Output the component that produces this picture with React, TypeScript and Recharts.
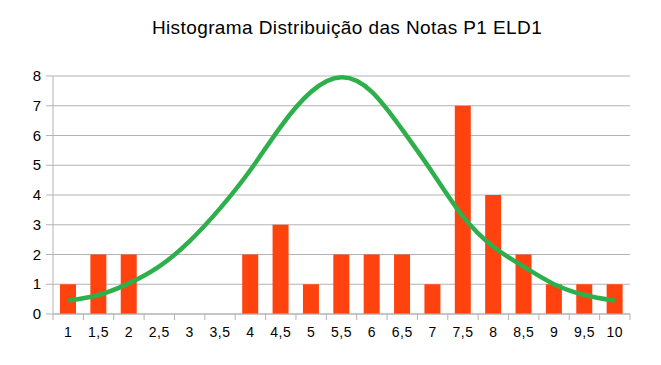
import { ComposedChart, Bar, Line, XAxis, YAxis, CartesianGrid } from 'recharts';

const notas = ['1', '1,5', '2', '2,5', '3', '3,5', '4', '4,5', '5', '5,5', '6', '6,5', '7', '7,5', '8', '8,5', '9', '9,5', '10'];
const frequencia = [1, 2, 2, 0, 0, 0, 2, 3, 1, 2, 2, 2, 1, 7, 4, 2, 1, 1, 1];
const curvaNormal = [0.45, 0.64, 1.03, 1.6, 2.45, 3.55, 4.84, 6.3, 7.47, 7.96, 7.47, 6.2, 4.75, 3.28, 2.26, 1.59, 1.0, 0.64, 0.45];
const yTicks = [0, 1, 2, 3, 4, 5, 6, 7, 8];

const data = notas.map((nota, i) => ({ nota, freq: frequencia[i], curva: curvaNormal[i] }));

const W = 661;
const H = 365;
const margin = { top: 76, right: 31, bottom: 21, left: 0 };
const yAxisWidth = 53;
const band = (W - margin.left - margin.right - yAxisWidth) / notas.length;

const font = '"Liberation Sans", Arial, sans-serif';

function XTick(props: any) {
  const { x, y, payload, index } = props;
  const half = band / 2;
  const top = y - 8;
  return (
    <g>
      <line x1={x - half} x2={x - half} y1={top} y2={top + 6} stroke="#b3b3b3" />
      {index === notas.length - 1 && (
        <line x1={x + half} x2={x + half} y1={top} y2={top + 6} stroke="#b3b3b3" />
      )}
      <text x={x} y={top + 23} textAnchor="middle" fontSize={14} letterSpacing={0.5} fill="#000" fontFamily={font}>
        {payload.value}
      </text>
    </g>
  );
}

function YTick(props: any) {
  const { y, payload } = props;
  return (
    <text x={41} y={y + 5} textAnchor="end" fontSize={15} fill="#000" fontFamily={font}>
      {payload.value}
    </text>
  );
}

export default function App() {
  return (
    <div style={{ position: 'absolute', left: 0, top: 0, width: W, height: H, background: '#fff' }}>
      <div
        style={{
          position: 'absolute', left: 0, width: W, top: 17, textAlign: 'center',
          fontFamily: font, fontSize: 19, letterSpacing: 0.4, color: '#000',
          paddingLeft: 33, boxSizing: 'border-box', whiteSpace: 'nowrap',
        }}
      >
        Histograma Distribuição das Notas P1 ELD1
      </div>
      <ComposedChart width={W} height={H} data={data} margin={margin}>
        <CartesianGrid vertical={false} stroke="#b3b3b3" />
        <XAxis
          dataKey="nota"
          interval={0}
          tickLine={false}
          axisLine={{ stroke: '#b3b3b3' }}
          tick={<XTick />}
          height={30}
        />
        <YAxis
          domain={[0, 8]}
          ticks={yTicks}
          width={yAxisWidth}
          tickSize={7}
          tickMargin={5}
          tickLine={{ stroke: '#b3b3b3' }}
          axisLine={{ stroke: '#b3b3b3' }}
          tick={<YTick />}
        />
        <Bar dataKey="freq" fill="#ff420e" barSize={16} isAnimationActive={false} />
        <Line
          dataKey="curva"
          type="natural"
          stroke="#2db04b"
          strokeWidth={4.5}
          dot={false}
          isAnimationActive={false}
        />
      </ComposedChart>
    </div>
  );
}
